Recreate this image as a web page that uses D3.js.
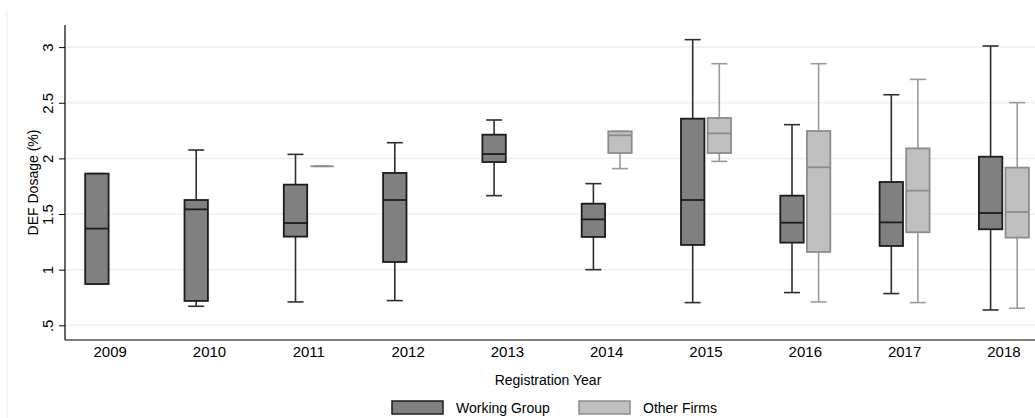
<!doctype html>
<html lang="en">
<head>
<meta charset="utf-8">
<title>DEF Dosage by Registration Year</title>
<script src="https://cdn.jsdelivr.net/npm/d3@7"></script>
<style>
  body { margin: 0; background: #fff; }
  svg text { font-family: "Liberation Sans", Arial, Helvetica, sans-serif; fill: #000; }
</style>
</head>
<body>
<div id="viz"></div>
<script>
// registration years on the x axis
var years = ["2009", "2010", "2011", "2012", "2013", "2014", "2015", "2016", "2017", "2018"];
var groups = ["Working Group", "Other Firms"];
var yTicks = [0.5, 1, 1.5, 2, 2.5, 3];
var yTickLabels = [".5", "1", "1.5", "2", "2.5", "3"];

// Working Group: lower whisker, q1, median, q3, upper whisker
var wgMin = [0.871, 0.671, 0.710, 0.722, 1.665, 1.000, 0.704, 0.794, 0.785, 0.638];
var wgQ1  = [0.871, 0.719, 1.297, 1.069, 1.967, 1.294, 1.222, 1.243, 1.213, 1.363];
var wgMed = [1.369, 1.542, 1.419, 1.626, 2.039, 1.452, 1.626, 1.422, 1.425, 1.509];
var wgQ3  = [1.863, 1.626, 1.764, 1.869, 2.213, 1.593, 2.357, 1.665, 1.788, 2.015];
var wgMax = [1.863, 2.075, 2.036, 2.141, 2.345, 1.773, 3.067, 2.303, 2.572, 3.010];

// Other Firms (null = no observations that year)
var ofMin = [null, null, 1.929, null, null, 1.908, 1.973, 0.710, 0.704, 0.653];
var ofQ1  = [null, null, 1.929, null, null, 2.048, 2.048, 1.159, 1.336, 1.288];
var ofMed = [null, null, 1.929, null, null, 2.207, 2.225, 1.920, 1.710, 1.518];
var ofQ3  = [null, null, 1.929, null, null, 2.243, 2.363, 2.246, 2.090, 1.917];
var ofMax = [null, null, 1.929, null, null, 2.243, 2.851, 2.851, 2.710, 2.501];

var w = 1035, h = 418;
var plot = {left: 65, top: 25, bottom: 340, right: 1035};

var fills   = {"Working Group": "#808080", "Other Firms": "#c0c0c0"};
var strokes = {"Working Group": "#1c1c1c", "Other Firms": "#8c8c8c"};
var whisk   = {"Working Group": "#2e2e2e", "Other Firms": "#9a9a9a"};

var boxes = [];
years.forEach(function(y, i) {
  boxes.push({year: y, group: groups[0], lo: wgMin[i], q1: wgQ1[i], med: wgMed[i], q3: wgQ3[i], hi: wgMax[i]});
  if (ofMed[i] !== null)
    boxes.push({year: y, group: groups[1], lo: ofMin[i], q1: ofQ1[i], med: ofMed[i], q3: ofQ3[i], hi: ofMax[i]});
});

var xYear = d3.scaleBand().domain(years).range([60.55, 60.55 + 10 * 99.3]);
var bw = xYear.bandwidth();
var xGroup = d3.scaleBand().domain(groups)
  .range([bw / 2 - 26.6, bw / 2 + 26.6])
  .paddingInner(0.12).paddingOuter(0.06);
var yScale = d3.scaleLinear().domain([0.5, 3]).range([325.3, 47.1]);

var svg = d3.select("#viz").append("svg")
  .attr("width", w).attr("height", h)
  .attr("viewBox", "0 0 " + w + " " + h);

// faint graph region edge on the left
svg.append("line")
  .attr("x1", 7).attr("x2", 7).attr("y1", 10).attr("y2", h)
  .attr("stroke", "#ececec").attr("stroke-width", 1);

// gridlines
svg.append("g").selectAll("line")
  .data(yTicks).enter().append("line")
  .attr("x1", plot.left).attr("x2", plot.right)
  .attr("y1", d => yScale(d)).attr("y2", d => yScale(d))
  .attr("stroke", "#eaf2f3").attr("stroke-width", 1.5);

// y axis
var yAxis = svg.append("g")
  .attr("transform", "translate(" + plot.left + ",0)")
  .call(d3.axisLeft(yScale).tickValues(yTicks)
    .tickFormat((d, i) => yTickLabels[i]).tickSize(6).tickPadding(0));
yAxis.select(".domain").remove();
yAxis.selectAll(".tick line").attr("stroke", "#000");
yAxis.selectAll(".tick text")
  .attr("transform", "rotate(-90)")
  .attr("x", 0).attr("y", -17).attr("dy", "0.35em")
  .attr("text-anchor", "middle")
  .style("font-size", "15px");
svg.append("line")
  .attr("x1", plot.left).attr("x2", plot.left)
  .attr("y1", plot.top).attr("y2", plot.bottom)
  .attr("stroke", "#000").attr("stroke-width", 1.2);

// x axis
var xAxis = svg.append("g")
  .attr("transform", "translate(0," + plot.bottom + ")")
  .call(d3.axisBottom(xYear).tickSize(0).tickPadding(0));
xAxis.select(".domain").remove();
xAxis.selectAll(".tick text")
  .attr("y", 17).attr("dy", 0)
  .style("font-size", "15px");
svg.append("line")
  .attr("x1", plot.left).attr("x2", plot.right)
  .attr("y1", plot.bottom).attr("y2", plot.bottom)
  .attr("stroke", "#000").attr("stroke-width", 1.2);

// axis titles
svg.append("text")
  .attr("transform", "translate(33," + ((plot.top + plot.bottom) / 2) + ") rotate(-90)")
  .attr("text-anchor", "middle").attr("dy", "0.35em")
  .style("font-size", "14px")
  .text("DEF Dosage (%)");
svg.append("text")
  .attr("x", 548).attr("y", 385)
  .attr("text-anchor", "middle")
  .style("font-size", "14px")
  .text("Registration Year");

// boxes
var bx = svg.append("g").selectAll("g")
  .data(boxes).enter().append("g")
  .attr("transform", d => "translate(" + (xYear(d.year) + xGroup(d.group) + xGroup.bandwidth() / 2) + ",0)");

var capW = 16, half = xGroup.bandwidth() / 2;

bx.append("line")   // whisker
  .attr("x1", 0).attr("x2", 0)
  .attr("y1", d => yScale(d.lo)).attr("y2", d => yScale(d.hi))
  .attr("stroke", d => whisk[d.group]).attr("stroke-width", 1.6);
bx.selectAll(".cap")
  .data(d => [{v: d.lo, g: d.group}, {v: d.hi, g: d.group}])
  .enter().append("line").attr("class", "cap")
  .attr("x1", -capW / 2).attr("x2", capW / 2)
  .attr("y1", c => yScale(c.v)).attr("y2", c => yScale(c.v))
  .attr("stroke", c => whisk[c.g]).attr("stroke-width", 1.6);
bx.append("rect")
  .attr("x", -half).attr("width", half * 2)
  .attr("y", d => yScale(d.q3))
  .attr("height", d => yScale(d.q1) - yScale(d.q3))
  .attr("fill", d => fills[d.group])
  .attr("stroke", d => strokes[d.group]).attr("stroke-width", 1.8);
bx.append("line")   // median
  .attr("x1", -half).attr("x2", half)
  .attr("y1", d => yScale(d.med)).attr("y2", d => yScale(d.med))
  .attr("stroke", d => strokes[d.group]).attr("stroke-width", 1.8);

// legend
var legendX = {"Working Group": 392, "Other Firms": 579};
var lg = svg.append("g").selectAll("g")
  .data(groups).enter().append("g")
  .attr("transform", d => "translate(" + legendX[d] + ",401)");
lg.append("rect")
  .attr("width", 51).attr("height", 13)
  .attr("fill", d => fills[d])
  .attr("stroke", d => strokes[d]).attr("stroke-width", 1.5);
lg.append("text")
  .attr("x", 64).attr("y", 12)
  .style("font-size", "14px")
  .text(d => d);
</script>
</body>
</html>
